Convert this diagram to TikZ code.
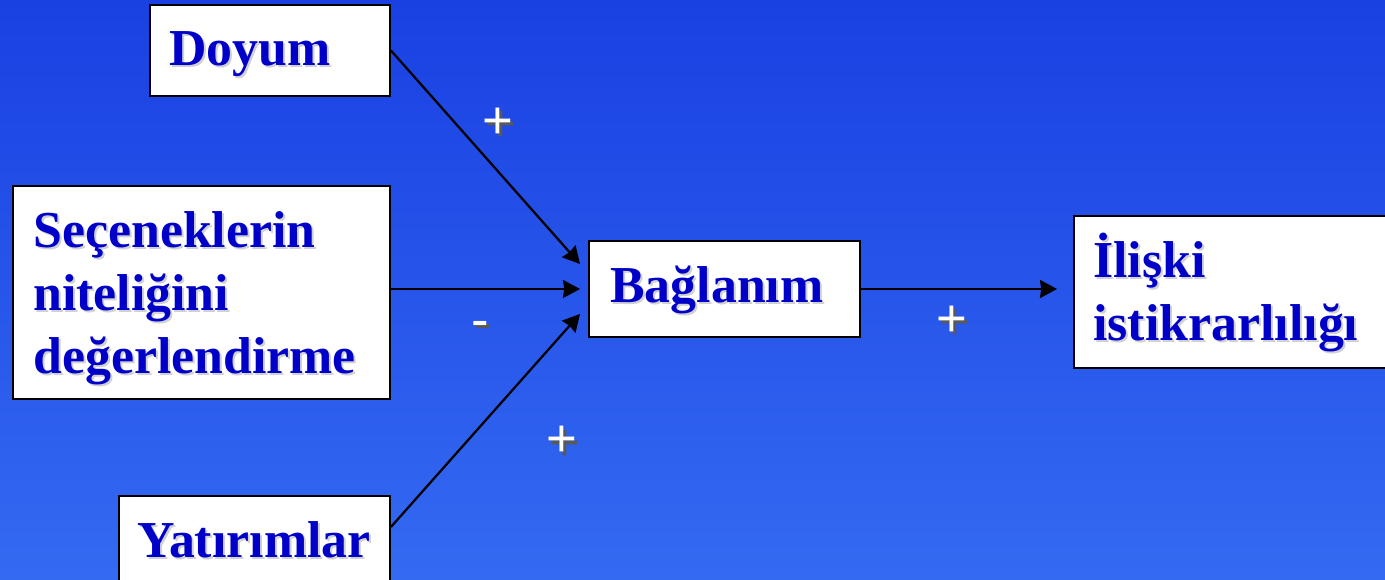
\documentclass[tikz,border=0pt]{standalone}
\usepackage{fontspec}
\setmainfont{Liberation Serif}
\newfontfamily\plusfont{Liberation Sans}
\usetikzlibrary{arrows.meta}
\definecolor{bgtop}{RGB}{26,64,226}
\definecolor{bgbot}{RGB}{52,106,242}
\definecolor{tblue}{RGB}{0,0,200}
\begin{document}
\begin{tikzpicture}[x=0.02cm,y=-0.02cm,
  box/.style={draw=black, line width=0.04cm, fill=white, inner sep=0pt, anchor=north west},
  lbl/.style={font=\bfseries\fontsize{29.5}{35.8}\selectfont, text=tblue, inner sep=0pt, anchor=base west},
  lblsh/.style={lbl, text=black!18},
  arr/.style={line width=0.045cm, -{Stealth[length=0.34cm,width=0.36cm,inset=0.025cm]}},
  sgn/.style={font=\plusfont\fontsize{30}{30}\selectfont, text=white, inner sep=0pt, anchor=base},
  sgnsh/.style={sgn, text=black!65}]
  \shade[top color=bgtop, bottom color=bgbot] (0,0) rectangle (1385,580);
  \useasboundingbox (0,0) rectangle (1385,580);

  % boxes
  \node[box, minimum width=4.8cm, minimum height=1.82cm] (doyumbox) at (149,4) {};
  \node[box, minimum width=7.54cm, minimum height=4.26cm] (secbox) at (12,185) {};
  \node[box, minimum width=5.42cm, minimum height=1.92cm] (bagbox) at (588,240) {};
  \node[box, minimum width=6.6cm, minimum height=3.04cm] (ilisbox) at (1073,215) {};
  \node[box, minimum width=5.42cm, minimum height=2.4cm] (yatbox) at (118,495) {};

  % texts (shadow + text)
  \node[lblsh] (doyumsh) at (171,68) {Doyum};
  \node[lbl] (doyum) at (169,66) {Doyum};
  \node[lblsh] (secsh) at (35,250) {\begin{tabular}[t]{@{}l@{}}Seçeneklerin\\niteliğini\\değerlendirme\end{tabular}};
  \node[lbl] (sec) at (33,248) {\begin{tabular}[t]{@{}l@{}}Seçeneklerin\\niteliğini\\değerlendirme\end{tabular}};
  \node[lblsh] (bagsh) at (612,305) {Bağlanım};
  \node[lbl] (bag) at (610,303) {Bağlanım};
  \node[lblsh] (ilissh) at (1095,280) {\begin{tabular}[t]{@{}l@{}}İlişki\\istikrarlılığı\end{tabular}};
  \node[lbl] (ilis) at (1093,278) {\begin{tabular}[t]{@{}l@{}}İlişki\\istikrarlılığı\end{tabular}};
  \node[lblsh] (yatsh) at (139,559) {Yatırımlar};
  \node[lbl] (yat) at (137,557) {Yatırımlar};

  % connectors
  \draw[arr] (doyumbox.east) -- ([shift={(-8,-25)}]bagbox.west);
  \draw[arr] (secbox.east |- bagbox.west) -- ([xshift=-0.16cm]bagbox.west);
  \draw[arr] ([yshift=-0.64cm]yatbox.north east) -- ([shift={(-8,25)}]bagbox.west);
  \draw[arr] (bagbox.east) -- ([xshift=-0.32cm]bagbox.east -| ilisbox.west);

  % signs
  \node[sgnsh] (p1s) at (501,142) {+};
  \node[sgn] (p1) at (498,139) {+};
  \node[sgnsh] (m1s) at (483,341) {-};
  \node[sgn] (m1) at (480,338) {-};
  \node[sgnsh] (p2s) at (565,460) {+};
  \node[sgn] (p2) at (562,457) {+};
  \node[sgnsh] (p3s) at (955,340) {+};
  \node[sgn] (p3) at (952,337) {+};
\end{tikzpicture}
\end{document}
